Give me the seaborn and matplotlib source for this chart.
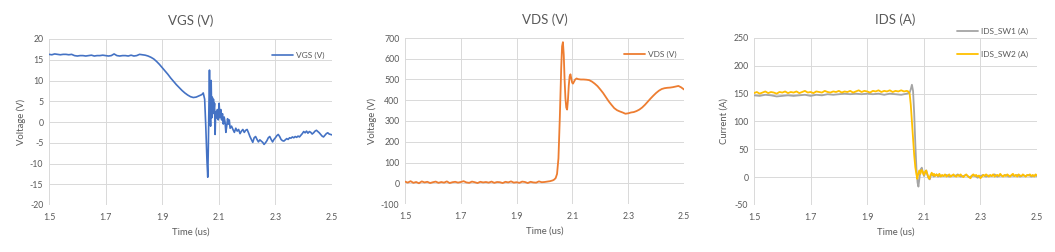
import numpy as np
import pandas as pd
import matplotlib
matplotlib.use("Agg")
import matplotlib.pyplot as plt
import seaborn as sns

# ---------------- data (time in us, value) ----------------
vgs_points = [
    (1.50, 16.3), (1.51, 16.2), (1.52, 16.4), (1.53, 16.3), (1.54, 16.2), (1.55, 16.3), (1.56, 16.3), (1.57, 16.2),
    (1.58, 16.3), (1.59, 16.0), (1.60, 15.9), (1.61, 16.0), (1.62, 16.0), (1.63, 15.9), (1.64, 16.0), (1.65, 16.1),
    (1.66, 15.9), (1.67, 16.0), (1.68, 16.0), (1.69, 16.1), (1.70, 16.0), (1.71, 15.9), (1.72, 16.0), (1.73, 16.4),
    (1.74, 16.0), (1.75, 15.9), (1.76, 16.0), (1.77, 16.0), (1.78, 15.9), (1.79, 16.1), (1.80, 15.9), (1.81, 16.0),
    (1.82, 16.3), (1.83, 16.2), (1.84, 16.1), (1.85, 15.9), (1.86, 15.6), (1.87, 15.2), (1.88, 14.6), (1.89, 13.9),
    (1.90, 13.1), (1.91, 12.3), (1.92, 11.5), (1.93, 10.6), (1.94, 9.8), (1.95, 9.0), (1.96, 8.3), (1.97, 7.6),
    (1.98, 7.0), (1.99, 6.5), (2.00, 6.1), (2.01, 5.9), (2.02, 6.0), (2.03, 6.3), (2.04, 6.6), (2.045, 7.0),
    (2.050, 5.5), (2.054, -1.0), (2.058, -9.0), (2.061, -13.3), (2.063, -6.0), (2.065, 4.0), (2.067, 12.5),
    (2.069, 3.0), (2.071, -1.0), (2.073, 10.0), (2.075, 1.0), (2.077, 6.0), (2.079, 2.0), (2.081, 5.5),
    (2.083, 3.0), (2.085, 4.5), (2.087, -3.0), (2.089, 2.5), (2.092, 1.0), (2.095, 3.0), (2.098, 0.5),
    (2.101, 4.5), (2.104, 1.0), (2.107, 3.0), (2.110, 0.5), (2.113, 2.0), (2.116, -0.5), (2.119, 1.2),
    (2.122, 0.0), (2.125, -2.5), (2.128, -1.0), (2.131, 0.8), (2.134, -0.5), (2.137, 0.5), (2.140, -1.5),
    (2.145, -1.0), (2.150, -1.8), (2.155, -2.5), (2.160, -1.5), (2.165, -2.2), (2.170, -1.8), (2.175, -2.8),
    (2.180, -2.2), (2.185, -1.8), (2.190, -2.5), (2.195, -2.0), (2.200, -1.8), (2.205, -2.6), (2.210, -3.5),
    (2.215, -4.2), (2.220, -4.9), (2.225, -3.8), (2.230, -3.5), (2.235, -4.2), (2.240, -4.8), (2.245, -4.3),
    (2.250, -4.6), (2.255, -4.9), (2.260, -5.4), (2.265, -5.0), (2.270, -4.5), (2.275, -3.8), (2.280, -3.5),
    (2.285, -4.2), (2.290, -4.8), (2.295, -4.2), (2.300, -3.8), (2.305, -3.3), (2.310, -3.0), (2.315, -3.5),
    (2.320, -4.2), (2.325, -4.5), (2.330, -4.6), (2.335, -4.3), (2.340, -4.0), (2.345, -4.2), (2.350, -3.8),
    (2.355, -3.9), (2.360, -3.6), (2.365, -3.8), (2.370, -3.5), (2.375, -3.7), (2.380, -3.4), (2.385, -3.6),
    (2.390, -3.2), (2.395, -2.8), (2.400, -2.3), (2.405, -2.6), (2.410, -2.2), (2.415, -2.7), (2.420, -2.3),
    (2.425, -2.5), (2.430, -2.9), (2.435, -2.6), (2.440, -2.2), (2.445, -2.0), (2.450, -2.3), (2.455, -2.6),
    (2.460, -3.0), (2.465, -3.4), (2.470, -3.6), (2.475, -3.2), (2.480, -2.8), (2.485, -2.6), (2.490, -2.9),
    (2.495, -3.0), (2.500, -3.1),
]

vds_points = [
    (1.50, 8), (1.51, 3), (1.52, 10), (1.53, 2), (1.54, 6), (1.55, 0), (1.56, 9), (1.57, 4), (1.58, 7), (1.59, 1),
    (1.60, 5), (1.61, 8), (1.62, 2), (1.63, 6), (1.64, 3), (1.65, 9), (1.66, 1), (1.67, 5), (1.68, 7), (1.69, 3),
    (1.70, 6), (1.71, 10), (1.72, 4), (1.73, 2), (1.74, 8), (1.75, 5), (1.76, 1), (1.77, 7), (1.78, 4), (1.79, 6),
    (1.80, 3), (1.81, 8), (1.82, 2), (1.83, 6), (1.84, 5), (1.85, 1), (1.86, 7), (1.87, 4), (1.88, 9), (1.89, 3),
    (1.90, 5), (1.91, 2), (1.92, 8), (1.93, 6), (1.94, 1), (1.95, 7), (1.96, 4), (1.97, 3), (1.98, 9), (1.99, 5),
    (2.00, 6), (2.01, 8), (2.02, 10), (2.03, 14), (2.035, 18), (2.04, 25), (2.045, 45), (2.050, 120),
    (2.055, 320), (2.060, 560), (2.063, 660), (2.066, 680), (2.069, 620), (2.072, 500), (2.075, 410),
    (2.078, 365), (2.081, 355), (2.084, 400), (2.087, 470), (2.090, 515), (2.093, 525), (2.096, 505),
    (2.099, 485), (2.102, 480), (2.106, 490), (2.110, 500), (2.115, 505), (2.120, 502), (2.13, 500),
    (2.14, 500), (2.15, 499), (2.16, 497), (2.17, 490), (2.18, 480), (2.19, 468), (2.20, 452), (2.21, 435),
    (2.22, 415), (2.23, 395), (2.24, 378), (2.25, 362), (2.26, 352), (2.27, 346), (2.28, 341), (2.29, 335),
    (2.30, 337), (2.31, 341), (2.32, 343), (2.33, 348), (2.34, 355), (2.35, 365), (2.36, 378), (2.37, 393),
    (2.38, 408), (2.39, 422), (2.40, 435), (2.41, 446), (2.42, 454), (2.43, 458), (2.44, 460), (2.45, 461),
    (2.46, 463), (2.47, 466), (2.48, 469), (2.49, 462), (2.50, 452),
]

ids_sw1_points = [
    (1.50, 147), (1.52, 146), (1.54, 148), (1.56, 147), (1.58, 145), (1.60, 146), (1.62, 147), (1.64, 146),
    (1.66, 147), (1.68, 148), (1.70, 146), (1.72, 148), (1.74, 147), (1.76, 149), (1.78, 148), (1.80, 149),
    (1.82, 150), (1.84, 149), (1.86, 150), (1.88, 149), (1.90, 150), (1.92, 149), (1.94, 150), (1.96, 148),
    (1.98, 150), (2.00, 149), (2.02, 148), (2.04, 150), (2.050, 152), (2.054, 158), (2.058, 166), (2.062, 155),
    (2.066, 115), (2.070, 60), (2.074, 15), (2.078, -10), (2.081, -17), (2.085, 0), (2.089, 14), (2.093, 17),
    (2.097, 8), (2.101, 2), (2.105, 8), (2.109, 12), (2.113, 4), (2.117, -2), (2.121, -4), (2.125, 3),
    (2.130, 6), (2.135, 1), (2.140, 3), (2.145, 5), (2.150, 1), (2.16, 3), (2.17, 2), (2.18, 4), (2.19, 1),
    (2.20, 3), (2.21, 2), (2.22, 5), (2.23, 1), (2.24, 2), (2.25, 4), (2.26, 0), (2.27, 2), (2.28, 3),
    (2.29, -1), (2.30, 2), (2.31, 4), (2.32, 1), (2.33, 3), (2.34, 2), (2.35, 5), (2.36, 1), (2.37, 3),
    (2.38, 2), (2.39, 4), (2.40, 1), (2.41, 3), (2.42, 2), (2.43, 4), (2.44, 1), (2.45, 3), (2.46, 2),
    (2.47, 4), (2.48, 1), (2.49, 3), (2.50, 2),
]

ids_sw2_points = [
    (1.50, 151), (1.51, 153), (1.52, 150), (1.53, 152), (1.54, 154), (1.55, 151), (1.56, 153), (1.57, 152),
    (1.58, 150), (1.59, 153), (1.60, 152), (1.61, 154), (1.62, 151), (1.63, 153), (1.64, 152), (1.65, 154),
    (1.66, 151), (1.67, 153), (1.68, 155), (1.69, 152), (1.70, 153), (1.71, 151), (1.72, 154), (1.73, 153),
    (1.74, 152), (1.75, 155), (1.76, 153), (1.77, 152), (1.78, 154), (1.79, 153), (1.80, 155), (1.81, 152),
    (1.82, 154), (1.83, 153), (1.84, 155), (1.85, 152), (1.86, 154), (1.87, 156), (1.88, 153), (1.89, 155),
    (1.90, 154), (1.91, 152), (1.92, 155), (1.93, 154), (1.94, 156), (1.95, 153), (1.96, 155), (1.97, 154),
    (1.98, 156), (1.99, 153), (2.00, 155), (2.01, 154), (2.02, 156), (2.03, 154), (2.04, 155), (2.045, 154),
    (2.050, 150), (2.054, 130), (2.058, 100), (2.062, 70), (2.066, 40), (2.070, 18), (2.074, 5), (2.077, -3),
    (2.080, 5), (2.084, 12), (2.088, 6), (2.092, 13), (2.096, 10), (2.100, 4), (2.104, 9), (2.108, 12),
    (2.112, 6), (2.116, 0), (2.120, -3), (2.124, 4), (2.128, 8), (2.132, 3), (2.136, 6), (2.140, 2),
    (2.145, 5), (2.150, 2), (2.155, 6), (2.160, 1), (2.165, 4), (2.170, 2), (2.175, 5), (2.180, 1),
    (2.185, 3), (2.190, 5), (2.195, 1), (2.200, 3), (2.205, 5), (2.210, 2), (2.215, 1), (2.220, 4),
    (2.225, 2), (2.230, 5), (2.235, 2), (2.240, 0), (2.245, 3), (2.250, 5), (2.255, 2), (2.260, 0),
    (2.265, -2), (2.270, 3), (2.275, 5), (2.280, 2), (2.285, 4), (2.290, 1), (2.295, 3), (2.300, -2),
    (2.305, 1), (2.310, 4), (2.315, 2), (2.320, 5), (2.325, 3), (2.330, 1), (2.335, 4), (2.340, 2),
    (2.345, 5), (2.350, 1), (2.355, 3), (2.360, 4), (2.365, 2), (2.370, 6), (2.375, 3), (2.380, 1),
    (2.385, 4), (2.390, 2), (2.395, 5), (2.400, 3), (2.405, 1), (2.410, 4), (2.415, 6), (2.420, 2),
    (2.425, 4), (2.430, 1), (2.435, 5), (2.440, 3), (2.445, 2), (2.450, 5), (2.455, 3), (2.460, 1),
    (2.465, 4), (2.470, 3), (2.475, 5), (2.480, 2), (2.485, 4), (2.490, 1), (2.495, 5), (2.500, 3),
]

titles = ["VGS (V)", "VDS (V)", "IDS (A)"]
ylabels = ["Voltage (V)", "Voltage (V)", "Current (A)"]
xlabel = "Time (us)"
xticks = [1.5, 1.7, 1.9, 2.1, 2.3, 2.5]
yticks_vgs = [-20, -15, -10, -5, 0, 5, 10, 15, 20]
yticks_vds = [-100, 0, 100, 200, 300, 400, 500, 600, 700]
yticks_ids = [-50, 0, 50, 100, 150, 200, 250]

# ---------------- styling ----------------
sns.set_theme(style="whitegrid")
plt.rcParams['font.family'] = ['Lato', 'DejaVu Sans']
TXT = "#595959"
GRID = "#d9d9d9"

fig = plt.figure(figsize=(10.55, 2.52), dpi=100)
fig.patch.set_facecolor("white")

positions = [
    [49 / 1055, 1 - 205 / 252, (332 - 49) / 1055, (205 - 39) / 252],
    [405 / 1055, 1 - 204 / 252, (684 - 405) / 1055, (204 - 38) / 252],
    [754 / 1055, 1 - 205 / 252, (1037 - 754) / 1055, (205 - 38) / 252],
]
axes = [fig.add_axes(p) for p in positions]


def to_df(points, name):
    t, v = zip(*points)
    return pd.DataFrame({"time": t, "value": v, "series": name})


df_vgs = to_df(vgs_points, "VGS (V)")
df_vds = to_df(vds_points, "VDS (V)")
df_ids = pd.concat([to_df(ids_sw1_points, "IDS_SW1 (A)"), to_df(ids_sw2_points, "IDS_SW2 (A)")])

sns.lineplot(data=df_vgs, x="time", y="value", hue="series", palette=["#4472C4"],
             estimator=None, sort=False, lw=1.2, ax=axes[0])
sns.lineplot(data=df_vds, x="time", y="value", hue="series", palette=["#ED7D31"],
             estimator=None, sort=False, lw=1.3, ax=axes[1])
sns.lineplot(data=df_ids, x="time", y="value", hue="series", palette=["#A5A5A5", "#FFC000"],
             estimator=None, sort=False, lw=1.3, ax=axes[2])

ylims = [(-20, 20), (-100, 700), (-50, 250)]
yticks = [yticks_vgs, yticks_vds, yticks_ids]

for i, ax in enumerate(axes):
    ax.set_facecolor("white")
    ax.set_xlim(1.5, 2.5)
    ax.set_ylim(*ylims[i])
    ax.set_xticks(xticks)
    ax.set_xticklabels([f"{x:.1f}" for x in xticks])
    ax.set_yticks(yticks[i])
    ax.set_yticklabels([str(y) for y in yticks[i]])
    ax.grid(True, color=GRID, lw=0.7)
    ax.set_axisbelow(True)
    for s in ax.spines.values():
        s.set_visible(False)
    ax.tick_params(axis="both", length=0, labelsize=6.3, colors=TXT)
    ax.tick_params(axis="x", pad=6)
    ax.tick_params(axis="y", pad=4)
    ax.set_title(titles[i], fontsize=9.5, color=TXT, pad=10)
    ax.set_xlabel(xlabel, fontsize=6.8, color=TXT, labelpad=4)
    ax.set_ylabel(ylabels[i], fontsize=6.8, color=TXT, labelpad=3)

leg_kw = dict(frameon=False, fontsize=6.0, handlelength=2.6, handletextpad=0.3,
              borderaxespad=0, labelcolor=TXT)
axes[0].legend(loc="upper right", bbox_to_anchor=(0.985, 0.94), **leg_kw)
axes[1].legend(loc="upper right", bbox_to_anchor=(0.985, 0.94), **leg_kw)
axes[2].legend(loc="upper right", bbox_to_anchor=(0.98, 1.08), labelspacing=1.9, **leg_kw)

fig.savefig("out.png", dpi=100, facecolor="white")
